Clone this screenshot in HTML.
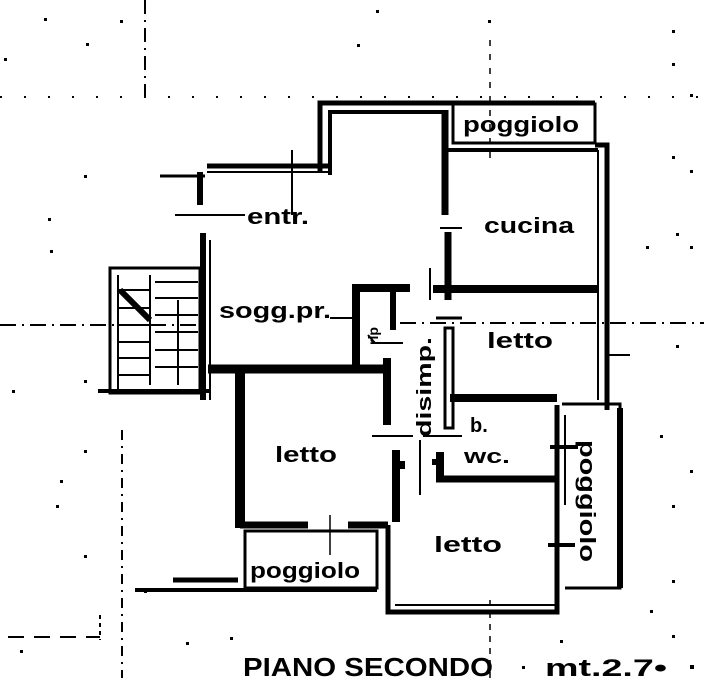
<!DOCTYPE html>
<html><head><meta charset="utf-8"><style>
html,body{margin:0;padding:0;background:#fff;}
svg{display:block;}
text{font-family:"Liberation Sans",sans-serif;font-weight:bold;fill:#000;}
</style></head><body>
<svg width="704" height="678" viewBox="0 0 704 678" xmlns="http://www.w3.org/2000/svg">
<g stroke="#000" fill="none">
<!-- axis lines -->
<line x1="145" y1="0" x2="145" y2="103" stroke-width="2" stroke-dasharray="14,6,2,6"/>
<line x1="0" y1="97" x2="700" y2="97" stroke-width="2" stroke-dasharray="2,22"/>
<line x1="0" y1="325" x2="210" y2="325" stroke-width="2" stroke-dasharray="16,6,2,6"/>
<line x1="400" y1="323" x2="704" y2="323" stroke-width="2" stroke-dasharray="16,6,2,6"/>
<line x1="122" y1="430" x2="122" y2="678" stroke-width="2" stroke-dasharray="10,6,2,6"/>
<line x1="490" y1="40" x2="490" y2="160" stroke-width="1.5" stroke-dasharray="6,8"/>
<line x1="490" y1="600" x2="490" y2="678" stroke-width="1.5" stroke-dasharray="6,6"/>
<line x1="8" y1="637" x2="100" y2="637" stroke-width="2" stroke-dasharray="16,10"/>
<line x1="100" y1="615" x2="100" y2="640" stroke-width="2" stroke-dasharray="4,4"/>
<!-- top poggiolo -->
<rect x="453" y="104" width="142" height="39" stroke-width="3"/>
<!-- outer top -->
<polyline points="320,172 320,103 595,103" stroke-width="5"/>
<polyline points="330,175 330,112 445,112" stroke-width="4"/>
<!-- entrance -->
<line x1="207" y1="166" x2="330" y2="166" stroke-width="5"/>
<line x1="207" y1="172" x2="330" y2="172" stroke-width="2"/>
<line x1="160" y1="176" x2="205" y2="176" stroke-width="3"/>
<line x1="175" y1="215" x2="245" y2="215" stroke-width="2"/>
<line x1="292" y1="150" x2="292" y2="215" stroke-width="2"/>
<line x1="200" y1="172" x2="200" y2="205" stroke-width="6"/>
<line x1="203" y1="233" x2="203" y2="400" stroke-width="6"/>
<line x1="210" y1="240" x2="210" y2="400" stroke-width="2"/>
<!-- stairs -->
<rect x="110" y="268" width="90" height="125" stroke-width="3"/>
<line x1="98" y1="391" x2="210" y2="391" stroke-width="4"/>
<g stroke-width="2">
<line x1="150" y1="275" x2="150" y2="385"/>
<line x1="118" y1="275" x2="118" y2="390"/>
<line x1="155" y1="282" x2="198" y2="282"/>
<line x1="118" y1="290" x2="150" y2="290"/>
<line x1="155" y1="298" x2="198" y2="298"/>
<line x1="118" y1="308" x2="150" y2="308"/>
<line x1="155" y1="315" x2="198" y2="315"/>
<line x1="118" y1="325" x2="150" y2="325"/>
<line x1="155" y1="332" x2="198" y2="332"/>
<line x1="118" y1="342" x2="150" y2="342"/>
<line x1="155" y1="350" x2="198" y2="350"/>
<line x1="118" y1="358" x2="150" y2="358"/>
<line x1="155" y1="367" x2="198" y2="367"/>
<line x1="118" y1="375" x2="150" y2="375"/>
<line x1="178" y1="300" x2="178" y2="385"/>
</g>
<path d="M120,290 L140,310 L150,320" stroke-width="6"/>
<!-- right outer wall -->
<polyline points="595,145 607,145 607,410" stroke-width="5"/>
<line x1="598" y1="150" x2="598" y2="400" stroke-width="2"/>
<line x1="605" y1="355" x2="630" y2="355" stroke-width="2"/>
<!-- cucina wall -->
<line x1="448" y1="150" x2="598" y2="150" stroke-width="4"/>
<line x1="445" y1="110" x2="445" y2="215" stroke-width="7"/>
<line x1="448" y1="232" x2="448" y2="300" stroke-width="7"/>
<line x1="440" y1="228" x2="462" y2="228" stroke-width="2"/>
<line x1="433" y1="289" x2="597" y2="289" stroke-width="8"/>
<line x1="430" y1="268" x2="430" y2="300" stroke-width="2"/>
<line x1="436" y1="318" x2="462" y2="318" stroke-width="3"/>
<!-- dist wall -->
<rect x="445" y="328" width="8" height="100" stroke-width="3"/>
<line x1="450" y1="398" x2="557" y2="398" stroke-width="8"/>
<!-- closet -->
<polyline points="356,372 356,288 410,288" stroke-width="8"/>
<line x1="393" y1="288" x2="393" y2="330" stroke-width="6"/>
<path d="M368,335 L375,343 L403,343" stroke-width="2"/>
<line x1="387" y1="358" x2="387" y2="425" stroke-width="8"/>
<line x1="330" y1="318" x2="352" y2="318" stroke-width="2"/>
<!-- soggiorno bottom -->
<line x1="208" y1="369" x2="390" y2="369" stroke-width="9"/>
<!-- bottom-left letto -->
<line x1="240" y1="373" x2="240" y2="528" stroke-width="10"/>
<line x1="240" y1="525" x2="308" y2="525" stroke-width="7"/>
<line x1="348" y1="525" x2="388" y2="525" stroke-width="7"/>
<line x1="396" y1="450" x2="396" y2="522" stroke-width="8"/>
<line x1="396" y1="465" x2="405" y2="465" stroke-width="8"/>
<line x1="372" y1="436" x2="413" y2="436" stroke-width="2"/>
<line x1="423" y1="436" x2="462" y2="436" stroke-width="2"/>
<line x1="420" y1="440" x2="420" y2="495" stroke-width="2"/>
<!-- bottom poggiolo -->
<rect x="245" y="531" width="132" height="57" stroke-width="3"/>
<line x1="135" y1="590" x2="377" y2="590" stroke-width="4"/>
<line x1="173" y1="580" x2="238" y2="580" stroke-width="5"/>
<line x1="330" y1="515" x2="330" y2="555" stroke-width="1.5"/>
<!-- lower right letto -->
<polyline points="388,525 388,612 557,612 557,405" stroke-width="5"/>
<line x1="395" y1="605" x2="557" y2="605" stroke-width="2"/>
<!-- wc -->
<line x1="440" y1="452" x2="440" y2="482" stroke-width="8"/>
<line x1="436" y1="479" x2="555" y2="479" stroke-width="7"/>
<line x1="432" y1="462" x2="442" y2="462" stroke-width="6"/>
<!-- right poggiolo -->
<polyline points="562,404 620,404 620,588 565,588" stroke-width="3"/>
<line x1="620" y1="408" x2="620" y2="588" stroke-width="6"/>
<line x1="565" y1="415" x2="565" y2="505" stroke-width="2"/>
<line x1="548" y1="545" x2="575" y2="545" stroke-width="4"/>
<line x1="550" y1="447" x2="578" y2="447" stroke-width="4"/>
</g>
<!-- dots -->
<g fill="#000">
<rect x="44" y="18" width="3" height="3"/><rect x="120" y="20" width="3" height="3"/><rect x="86" y="43" width="3" height="3"/>
<rect x="376" y="10" width="3" height="3"/><rect x="488" y="20" width="3" height="3"/><rect x="672" y="30" width="3" height="3"/>
<rect x="4" y="58" width="3" height="3"/><rect x="357" y="44" width="3" height="3"/><rect x="672" y="63" width="3" height="3"/>
<rect x="690" y="94" width="3" height="3"/><rect x="672" y="156" width="3" height="3"/><rect x="690" y="170" width="3" height="3"/>
<rect x="48" y="218" width="3" height="3"/><rect x="84" y="175" width="3" height="3"/><rect x="676" y="233" width="3" height="3"/>
<rect x="50" y="250" width="3" height="3"/><rect x="646" y="246" width="3" height="3"/><rect x="690" y="246" width="3" height="3"/>
<rect x="12" y="390" width="3" height="3"/><rect x="84" y="380" width="3" height="3"/><rect x="676" y="345" width="3" height="3"/>
<rect x="84" y="450" width="3" height="3"/><rect x="60" y="480" width="3" height="3"/><rect x="660" y="435" width="3" height="3"/>
<rect x="56" y="505" width="3" height="3"/><rect x="690" y="470" width="3" height="3"/><rect x="672" y="505" width="3" height="3"/>
<rect x="84" y="555" width="3" height="3"/><rect x="144" y="590" width="3" height="3"/><rect x="672" y="580" width="3" height="3"/>
<rect x="650" y="610" width="3" height="3"/><rect x="672" y="635" width="3" height="3"/><rect x="20" y="650" width="3" height="3"/>
<rect x="230" y="637" width="3" height="3"/><rect x="186" y="642" width="3" height="3"/><rect x="690" y="665" width="4" height="4"/>
<rect x="522" y="666" width="3" height="3"/><rect x="560" y="640" width="3" height="3"/>
</g>
<!-- labels -->
<text x="247" y="224" font-size="22" textLength="62" lengthAdjust="spacingAndGlyphs">entr.</text>
<text x="484" y="233" font-size="22" textLength="90" lengthAdjust="spacingAndGlyphs">cucina</text>
<text x="219" y="318" font-size="22" textLength="112" lengthAdjust="spacingAndGlyphs">sogg.pr.</text>
<text x="487" y="348" font-size="22" textLength="66" lengthAdjust="spacingAndGlyphs">letto</text>
<text x="275" y="462" font-size="22" textLength="62" lengthAdjust="spacingAndGlyphs">letto</text>
<text x="434" y="552" font-size="22" textLength="68" lengthAdjust="spacingAndGlyphs">letto</text>
<text x="463" y="132" font-size="22" textLength="116" lengthAdjust="spacingAndGlyphs">poggiolo</text>
<text x="250" y="578" font-size="22" textLength="110" lengthAdjust="spacingAndGlyphs">poggiolo</text>
<text x="470" y="432" font-size="20">b.</text>
<text x="464" y="463" font-size="20" textLength="46" lengthAdjust="spacingAndGlyphs">wc.</text>
<text transform="translate(431,437) rotate(-90)" font-size="20" textLength="100" lengthAdjust="spacingAndGlyphs">disimp.</text>
<text transform="translate(378,345) rotate(-90)" font-size="14">rip</text>
<text transform="translate(580,440) rotate(90)" font-size="22" textLength="122" lengthAdjust="spacingAndGlyphs">poggiolo</text>
<text x="243" y="676" font-size="26" textLength="250" lengthAdjust="spacingAndGlyphs">PIANO SECONDO</text>
<text x="545" y="676" font-size="24" textLength="122" lengthAdjust="spacingAndGlyphs">mt.2.7•</text>
</svg>
</body></html>
